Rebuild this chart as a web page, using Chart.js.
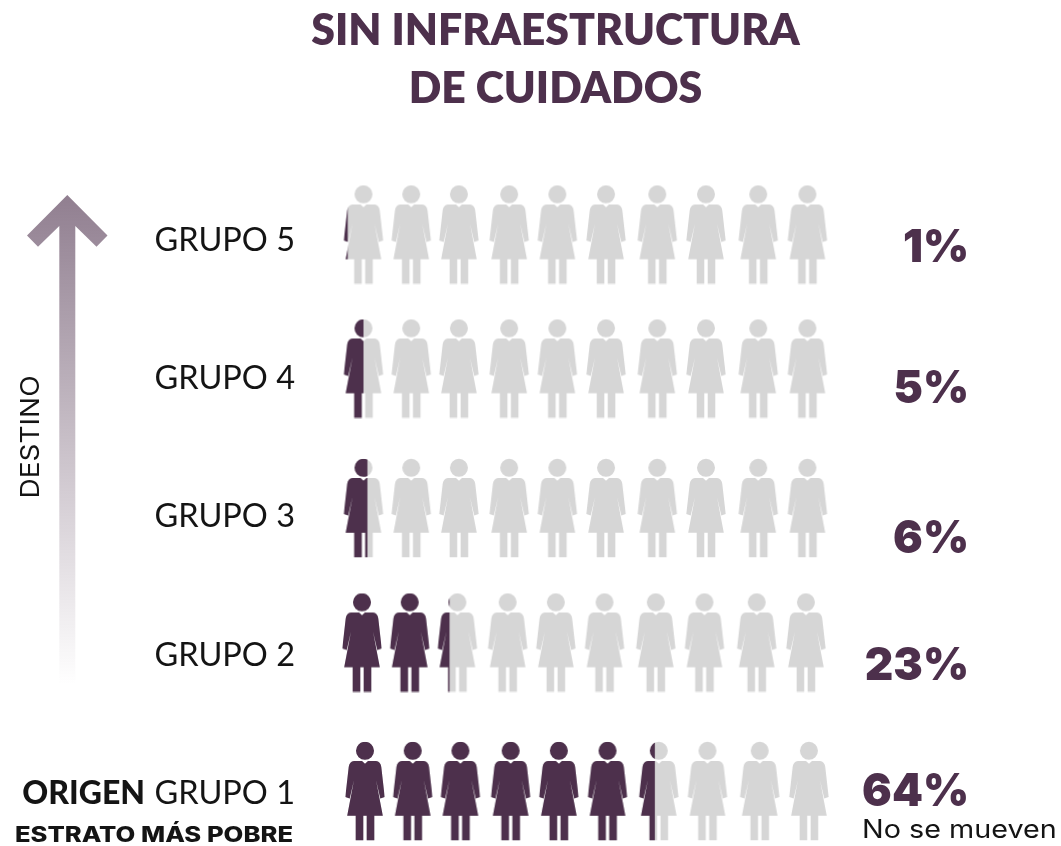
<!DOCTYPE html>
<html lang="es">
<head>
<meta charset="utf-8">
<title>Sin infraestructura de cuidados</title>
<script src="https://cdn.jsdelivr.net/npm/chart.js@4"></script>
<style>
  html, body { margin: 0; padding: 0; background: #fff; }
  canvas { display: block; }
</style>
</head>
<body>
<canvas id="chart" width="1061" height="846"></canvas>
<script>
const groups = ['GRUPO 5', 'GRUPO 4', 'GRUPO 3', 'GRUPO 2', 'GRUPO 1'];
const percentages = [1, 5, 6, 23, 64];
const iconSlots = [0, 1, 2, 3, 4, 5, 6, 7, 8, 9];
const titleLines = ['SIN INFRAESTRUCTURA', 'DE CUIDADOS'];

const PLUM = '#4d304c';
const GREY = '#d6d6d6';
const INK = '#141414';

// the picture is hand placed, so rows and columns sit a little off the grid
const rowShiftY = [-6, -10.25, -9, -12.75, -2.5];
const rowShiftX = [0, 0, 0, -1.5, 1.5];
const colShiftX = [0, -1.5, -3, -2, -3, -3.5, -1.5, -2, 1, 1];
const pctBaseline = [262, 403, 553, 680, 806];

const ICON_W = 42;
const ICON_H = 100;

function womanPath(c) {
  c.beginPath();
  c.arc(0, 8.8, 9, 0, Math.PI * 2);
  c.closePath();
  c.moveTo(-3, 19);
  c.lineTo(0, 21.8);
  c.lineTo(3, 19);
  c.lineTo(11, 19);
  c.quadraticCurveTo(15.5, 19.5, 16.3, 25);
  c.lineTo(19.7, 55);
  c.lineTo(15.3, 56.4);
  c.lineTo(11, 38);
  c.lineTo(17.8, 73.8);
  c.lineTo(9.3, 73.8);
  c.lineTo(9.3, 98.2);
  c.lineTo(1.7, 98.2);
  c.lineTo(1.7, 73.8);
  c.lineTo(-1.7, 73.8);
  c.lineTo(-1.7, 98.2);
  c.lineTo(-9.3, 98.2);
  c.lineTo(-9.3, 73.8);
  c.lineTo(-17.8, 73.8);
  c.lineTo(-11, 38);
  c.lineTo(-15.3, 56.4);
  c.lineTo(-19.7, 55);
  c.lineTo(-16.3, 25);
  c.quadraticCurveTo(-15.5, 19.5, -11, 19);
  c.closePath();
}

// one icon canvas, filled plum from the left by the given share
function makeIcon(share) {
  const cv = document.createElement('canvas');
  cv.width = ICON_W;
  cv.height = ICON_H;
  const c = cv.getContext('2d');
  c.translate(ICON_W / 2, 1);
  womanPath(c);
  c.fillStyle = GREY;
  c.fill();
  if (share > 0) {
    c.save();
    c.beginPath();
    c.rect(-19.7, 0, 39.4 * share, ICON_H);
    c.clip();
    womanPath(c);
    c.fillStyle = PLUM;
    c.fill();
    c.restore();
  }
  return cv;
}

const datasets = groups.map((g, r) => ({
  label: g,
  data: iconSlots.map(i => ({ x: i, y: g })),
  pointStyle: iconSlots.map(i => makeIcon(Math.min(1, Math.max(0, percentages[r] / 10 - i)))),
  clip: false
}));

const nudgePlugin = {
  id: 'nudge',
  afterDatasetsUpdate(chart) {
    groups.forEach((g, r) => {
      chart.getDatasetMeta(r).data.forEach((pt, i) => {
        pt.x += rowShiftX[r] + colShiftX[i];
        pt.y += rowShiftY[r];
      });
    });
  }
};

// text pushed wider along its own line, the installed fonts run narrower than the original
function wideText(c, str, x, y, stretch) {
  c.save();
  c.translate(x, y);
  c.scale(stretch, 1);
  c.fillText(str, 0, 0);
  c.restore();
}

const textPlugin = {
  id: 'texts',
  beforeDraw(chart) {
    const c = chart.ctx;
    c.save();

    // arrow
    const grad = c.createLinearGradient(0, 195, 0, 685);
    grad.addColorStop(0, 'rgba(77,48,76,0.62)');
    grad.addColorStop(0.45, 'rgba(77,48,76,0.34)');
    grad.addColorStop(1, 'rgba(77,48,76,0)');
    c.fillStyle = grad;
    c.beginPath();
    c.moveTo(67.3, 195);
    c.lineTo(107.5, 235.5);
    c.lineTo(96.5, 246.8);
    c.lineTo(75.3, 226);
    c.lineTo(75.3, 685);
    c.lineTo(59.3, 685);
    c.lineTo(59.3, 226);
    c.lineTo(38, 246.8);
    c.lineTo(27, 235.5);
    c.closePath();
    c.fill();

    // title
    c.fillStyle = PLUM;
    c.textAlign = 'center';
    c.textBaseline = 'alphabetic';
    c.font = '800 42.8px Lato';
    c.fillText(titleLines[0], 555.5, 45);
    c.fillText(titleLines[1], 555.5, 103);

    // percentages
    c.textAlign = 'right';
    c.font = '900 46px Inter';
    percentages.forEach((p, r) => wideText(c, p + '%', 969, pctBaseline[r], 0.96));

    // notes
    c.fillStyle = INK;
    c.textAlign = 'left';
    c.font = '400 25px Inter';
    wideText(c, 'No se mueven', 862, 838, 1.15);

    c.textAlign = 'right';
    const y1 = chart.scales.y.getPixelForValue(groups.indexOf('GRUPO 1'));
    c.font = '900 32px Lato';
    c.textBaseline = 'middle';
    c.fillText('ORIGEN', 145, y1);
    c.textBaseline = 'alphabetic';
    c.font = '800 21px Inter';
    wideText(c, 'ESTRATO MÁS POBRE', 293, 842, 1.22);

    c.translate(38.5, 437);
    c.rotate(-Math.PI / 2);
    c.textAlign = 'center';
    c.font = '400 25px Inter';
    wideText(c, 'DESTINO', 0, 0, 1.12);
    c.restore();
  }
};

new Chart(document.getElementById('chart'), {
  type: 'scatter',
  data: { datasets },
  plugins: [nudgePlugin, textPlugin],
  options: {
    responsive: false,
    animation: false,
    layout: { padding: { top: 240.5, bottom: 52.5, left: 0, right: 254.6 } },
    elements: { point: { radius: 20, hoverRadius: 20 } },
    plugins: { legend: { display: false }, tooltip: { enabled: false } },
    scales: {
      x: { type: 'linear', min: 0, max: 9, display: false },
      y: {
        type: 'category',
        labels: groups,
        offset: false,
        grid: { display: false },
        border: { display: false },
        // tick padding also counts as vertical margin, which would squeeze the rows
        afterFit(s) {
          s.width = 363.5;
          s.paddingTop = 0;
          s.paddingBottom = 0;
        },
        ticks: {
          autoSkip: false,
          padding: 60.5,
          color: INK,
          font: { family: 'Lato', size: 32.5, weight: '400' }
        }
      }
    }
  }
});
</script>
</body>
</html>
